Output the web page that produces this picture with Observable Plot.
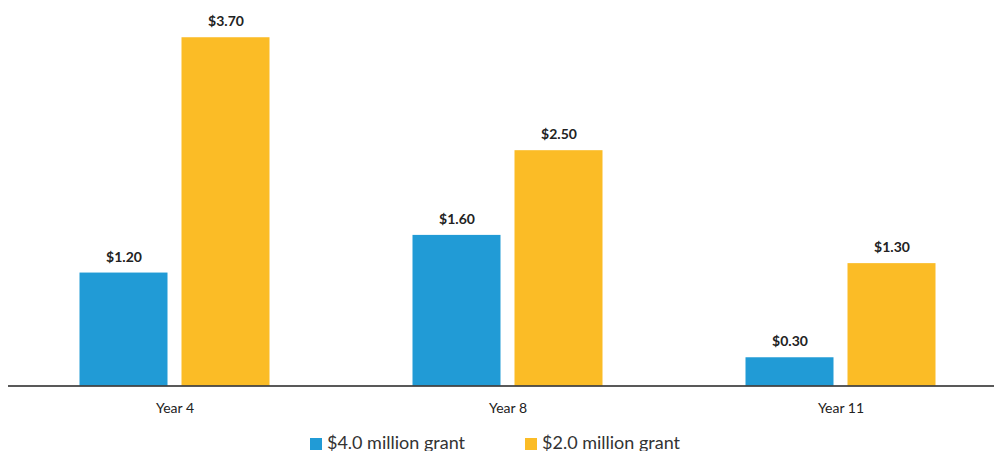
<!DOCTYPE html>
<html><head><meta charset="utf-8">
<script src="https://cdn.jsdelivr.net/npm/d3@7"></script>
<script src="https://cdn.jsdelivr.net/npm/@observablehq/plot@0.6"></script>
<style>
body{margin:0;background:#fff;font-family:Lato,"Open Sans",sans-serif;overflow:hidden}
#legend{display:flex;justify-content:center;gap:60px;font-size:18px;color:#333;height:31px;align-items:center;margin-top:6px;margin-left:-4px}
#legend span.sw{display:inline-block;width:12px;height:12px;margin-right:5px;vertical-align:-1px}
</style></head>
<body>
<div id="chart"></div>
<div id="legend"></div>
<script>
const years = ["Year 4", "Year 8", "Year 11"];
const seriesNames = ["$4.0 million grant", "$2.0 million grant"];
const grant4 = [1.20, 1.60, 0.30];
const grant2 = [3.70, 2.50, 1.30];
const colors = ["#219bd6", "#fbbc26"];

const data = [];
years.forEach((y, i) => {
  data.push({year: y, series: seriesNames[0], value: grant4[i]});
  data.push({year: y, series: seriesNames[1], value: grant2[i]});
});

const chart = Plot.plot({
  width: 994,
  height: 420,
  marginLeft: 7.5,
  marginRight: -12.5,
  marginTop: 9,
  marginBottom: 34.5,
  style: {fontFamily: "Lato, 'Open Sans', sans-serif", background: "#fff", overflow: "hidden"},
  fx: {domain: years, padding: 0, label: null},
  x: {domain: seriesNames, paddingInner: 0.1373, paddingOuter: 0.701, axis: null},
  y: {domain: [0, 4], axis: null},
  color: {domain: seriesNames, range: colors},
  marks: [
    Plot.axisFx({anchor: "bottom", label: null, tickSize: 0, tickPadding: 17, fontSize: 14, fill: "#222"}),
    Plot.barY(data, {fx: "year", x: "series", y: "value", fill: "series"}),
    Plot.text(data, {fx: "year", x: "series", y: "value", text: d => "$" + d.value.toFixed(2), dy: -16, fontWeight: "bold", fontSize: 14, fill: "#222"}),
    Plot.ruleY([0], {stroke: "#222", strokeWidth: 1.5})
  ]
});
document.getElementById("chart").appendChild(chart);

const lg = document.getElementById("legend");
seriesNames.forEach((n, i) => {
  const d = document.createElement("div");
  d.innerHTML = `<span class="sw" style="background:${colors[i]}"></span>${n}`;
  lg.appendChild(d);
});
</script>
</body></html>
